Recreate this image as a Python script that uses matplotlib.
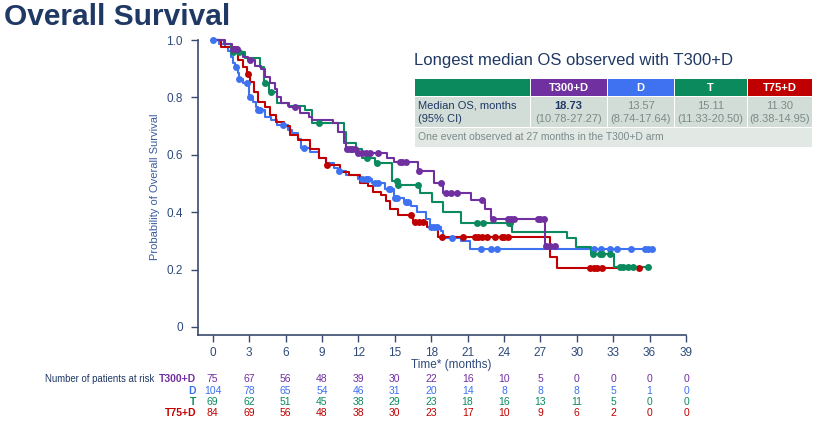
import numpy as np
import matplotlib
matplotlib.use("Agg")
import matplotlib.pyplot as plt
from matplotlib.patches import Rectangle

plt.rcParams['font.family'] = ['Liberation Sans', 'DejaVu Sans']

# Kaplan-Meier steps (time in months, survival after the step)
t300d_t = [0, 1.0, 1.6, 2.1, 2.5, 2.9, 3.5, 4.0, 4.3, 4.7, 5.1, 5.3, 5.6, 6.3, 7.2, 7.9, 8.2, 9.9, 10.3,
           10.8, 11.0, 11.9, 14.4, 14.9, 16.9, 18.2, 19.0, 21.3, 22.4, 22.9, 27.4, 28.3]
t300d_s = [1.0, 0.985, 0.97, 0.955, 0.94, 0.93, 0.91, 0.90, 0.87, 0.85, 0.83, 0.80, 0.78, 0.765, 0.745, 0.73,
           0.72, 0.71, 0.68, 0.64, 0.62, 0.606, 0.59, 0.575, 0.545, 0.50, 0.467, 0.443, 0.41, 0.376, 0.282, 0.282]
t300d_cens = [1.7, 1.9, 2.0, 3.1, 6.8, 11.1, 11.3, 11.5, 11.7, 12.0, 12.3, 12.6, 13.0, 13.6, 15.4, 15.6, 15.9,
              17.0, 18.8, 19.2, 19.6, 20.1, 22.2, 23.1, 24.3, 24.6, 24.8, 26.8, 27.0, 27.3, 27.5, 27.8, 28.2]

d_t = [0, 0.5, 1.0, 1.3, 1.5, 1.7, 1.85, 2.1, 2.2, 2.5, 3.0, 3.3, 3.6, 3.7, 4.3, 4.8, 5.3, 6.2, 6.5, 7.0, 7.3,
       8.0, 8.8, 9.3, 10.0, 10.3, 11.0, 12.0, 13.1, 14.2, 14.9, 15.8, 16.3, 16.8, 17.6, 17.9, 18.8, 19.0, 20.5,
       21.2, 36.2]
d_s = [1.0, 0.985, 0.975, 0.96, 0.94, 0.92, 0.905, 0.885, 0.865, 0.85, 0.80, 0.785, 0.765, 0.755, 0.73, 0.72,
       0.705, 0.685, 0.675, 0.655, 0.625, 0.61, 0.59, 0.57, 0.555, 0.545, 0.53, 0.515, 0.50, 0.48, 0.45, 0.435,
       0.42, 0.40, 0.375, 0.35, 0.335, 0.31, 0.30, 0.272, 0.272]
d_cens = [0, 1.9, 2.2, 2.8, 3.1, 3.75, 3.9, 5.8, 7.5, 10.4, 12.3, 12.6, 12.8, 13.4, 13.6, 14.5, 14.6, 15.0, 15.2,
          15.9, 16.1, 18.0, 18.2, 18.5, 19.7, 22.1, 22.9, 23.4, 31.4, 32.0, 32.7, 33.3, 34.5, 35.6, 35.9, 36.2]

t_t = [0, 0.9, 1.5, 1.6, 2.7, 3.9, 4.2, 4.6, 5.3, 6.2, 7.6, 8.2, 10.8, 11.0, 11.8, 12.3, 13.4, 14.8, 15.3,
       17.1, 18.1, 19.0, 20.5, 24.7, 29.2, 29.9, 31.2, 33.1, 35.9]
t_s = [1.0, 0.985, 0.97, 0.958, 0.937, 0.906, 0.85, 0.82, 0.78, 0.77, 0.755, 0.71, 0.68, 0.64, 0.62, 0.59, 0.57,
       0.51, 0.495, 0.467, 0.436, 0.40, 0.362, 0.33, 0.31, 0.28, 0.255, 0.21, 0.21]
t_cens = [1.7, 2.2, 4.3, 4.8, 8.8, 12.7, 13.5, 15.2, 15.3, 16.9, 21.8, 22.3, 24.4, 24.5, 31.3, 31.9, 32.1, 32.7,
          33.6, 33.8, 34.2, 34.6, 35.9]

r_t = [0, 0.7, 2.0, 2.1, 2.5, 2.8, 3.1, 3.4, 3.7, 4.3, 4.7, 5.2, 5.9, 6.4, 7.0, 8.0, 8.8, 9.3, 10.5, 11.2,
       12.1, 12.8, 13.2, 13.9, 14.3, 14.6, 15.3, 16.5, 17.7, 18.6, 27.8, 28.4, 35.2]
r_s = [1.0, 0.975, 0.955, 0.93, 0.905, 0.88, 0.855, 0.82, 0.785, 0.767, 0.74, 0.715, 0.70, 0.67, 0.65, 0.62,
       0.59, 0.565, 0.54, 0.53, 0.50, 0.49, 0.47, 0.46, 0.44, 0.41, 0.39, 0.366, 0.35, 0.315, 0.244, 0.205, 0.205]
r_cens = [2.9, 9.4, 16.3, 16.7, 17.0, 17.3, 18.9, 20.6, 21.6, 21.9, 22.2, 22.6, 23.3, 23.8, 24.0, 24.3,
          31.1, 31.4, 31.7, 32.1, 35.1]

# Number at risk
risk_times = [0, 3, 6, 9, 12, 15, 18, 21, 24, 27, 30, 33, 36, 39]
risk_t300d = [75, 67, 56, 48, 39, 30, 22, 16, 10, 5, 0, 0, 0, 0]
risk_d = [104, 78, 65, 54, 46, 31, 20, 14, 8, 8, 8, 5, 1, 0]
risk_t = [69, 62, 51, 45, 38, 29, 23, 18, 16, 13, 11, 5, 0, 0]
risk_t75d = [84, 69, 56, 48, 38, 30, 23, 17, 10, 9, 6, 2, 0, 0]

arm_names = ['T300+D', 'D', 'T', 'T75+D']
arm_colors = ['#7030A0', '#3F72F0', '#0B8A5E', '#C00000']

# Median table
median_os = ['18.73', '13.57', '15.11', '11.30']
median_ci = ['(10.78-27.27)', '(8.74-17.64)', '(11.33-20.50)', '(8.38-14.95)']

navy = '#1F3864'
axis_col = '#3A4A6E'

fig = plt.figure(figsize=(8.19, 4.22), dpi=100)
W, H = 819, 422
ax = fig.add_axes([198 / W, 1 - 335 / H, (686 - 198) / W, (335 - 40) / H])

arms = [(t300d_t, t300d_s, t300d_cens), (d_t, d_s, d_cens), (t_t, t_s, t_cens), (r_t, r_s, r_cens)]
order = [1, 3, 2, 0]
for i in order:
    tt, ss, cc = arms[i]
    tt = np.array(tt)
    ss = np.array(ss)
    ax.step(tt, ss, where='post', color=arm_colors[i], lw=1.5, clip_on=False, zorder=3)
    idx = np.searchsorted(tt, cc, side='right') - 1
    ax.plot(cc, ss[idx], 'o', color=arm_colors[i], ms=5, mew=0, clip_on=False, zorder=4)

ax.set_xlim(-1.21, 39)
ax.set_ylim(-0.028, 1.0)
ax.set_xticks(risk_times)
ax.set_yticks([0, 0.2, 0.4, 0.6, 0.8, 1.0])
ax.set_yticklabels(['0', '0.2', '0.4', '0.6', '0.8', '1.0'])
for s in ['top', 'right']:
    ax.spines[s].set_visible(False)
for s in ['left', 'bottom']:
    ax.spines[s].set_color(axis_col)
    ax.spines[s].set_linewidth(1.2)
ax.tick_params(colors=axis_col, labelcolor='#2E4A7A', labelsize=8.5, length=5, width=1)
ax.tick_params(axis='y', pad=6)

# overlay in pixel coords for texts and the table
ov = fig.add_axes([0, 0, 1, 1], facecolor='none')
ov.set_xlim(0, W)
ov.set_ylim(H, 0)
ov.axis('off')

ov.text(4, 17, 'Overall Survival', fontsize=21.5, weight='bold', color=navy, va='center', ha='left')
ov.text(155, 187, 'Probability of Overall Survival', fontsize=8, color='#3A5BA0', rotation=90,
        ha='center', va='center')
ov.text(451, 365, 'Time* (months)', fontsize=8.5, color='#2E4A7A', ha='center', va='center')

# at-risk rows
row_y = [379, 391, 402, 413]
ov.text(154, row_y[0], 'Number of patients at risk', fontsize=6.9, color=navy, ha='right', va='center')
for k, vals in enumerate([risk_t300d, risk_d, risk_t, risk_t75d]):
    ov.text(196, row_y[k], arm_names[k], fontsize=7.5, weight='bold', color=arm_colors[k],
            ha='right', va='center')
    for tm, v in zip(risk_times, vals):
        px = ax.transData.transform((tm, 0))[0]
        ov.text(px, row_y[k], str(v), fontsize=7.5, color=arm_colors[k], ha='center', va='center')

# median OS table
ov.text(414, 60, 'Longest median OS observed with T300+D', fontsize=12, color=navy, ha='left', va='center')
col_x = [414, 530, 607, 674, 747, 812]
head_cols = ['#0B8A5E'] + arm_colors
for c in range(5):
    x0, x1 = col_x[c] + 0.5, col_x[c + 1] - 0.5
    ov.add_patch(Rectangle((x0, 79), x1 - x0, 17, color=head_cols[c], lw=0))
    ov.add_patch(Rectangle((x0, 97), x1 - x0, 29.5, color='#D3DDD8', lw=0))
    if c > 0:
        xm = (x0 + x1) / 2
        ov.text(xm, 88, arm_names[c - 1], fontsize=8, weight='bold', color='white', ha='center', va='center')
        ov.text(xm, 106, median_os[c - 1], fontsize=8, color=navy if c == 1 else '#7A8A8A',
                weight='bold' if c == 1 else 'normal', ha='center', va='center')
        ov.text(xm, 118.5, median_ci[c - 1], fontsize=8, color='#7A8A8A', ha='center', va='center')
ov.add_patch(Rectangle((414.5, 127.5), 812 - 414.5, 19.5, color='#E2E9E5', lw=0))
ov.text(418, 106, 'Median OS, months', fontsize=8, color=navy, ha='left', va='center')
ov.text(418, 118.5, '(95% CI)', fontsize=8, color=navy, ha='left', va='center')
ov.text(418, 137, 'One event observed at 27 months in the T300+D arm', fontsize=7.5, color='#7A8A8A',
        ha='left', va='center')

fig.savefig('out.png', dpi=100)
